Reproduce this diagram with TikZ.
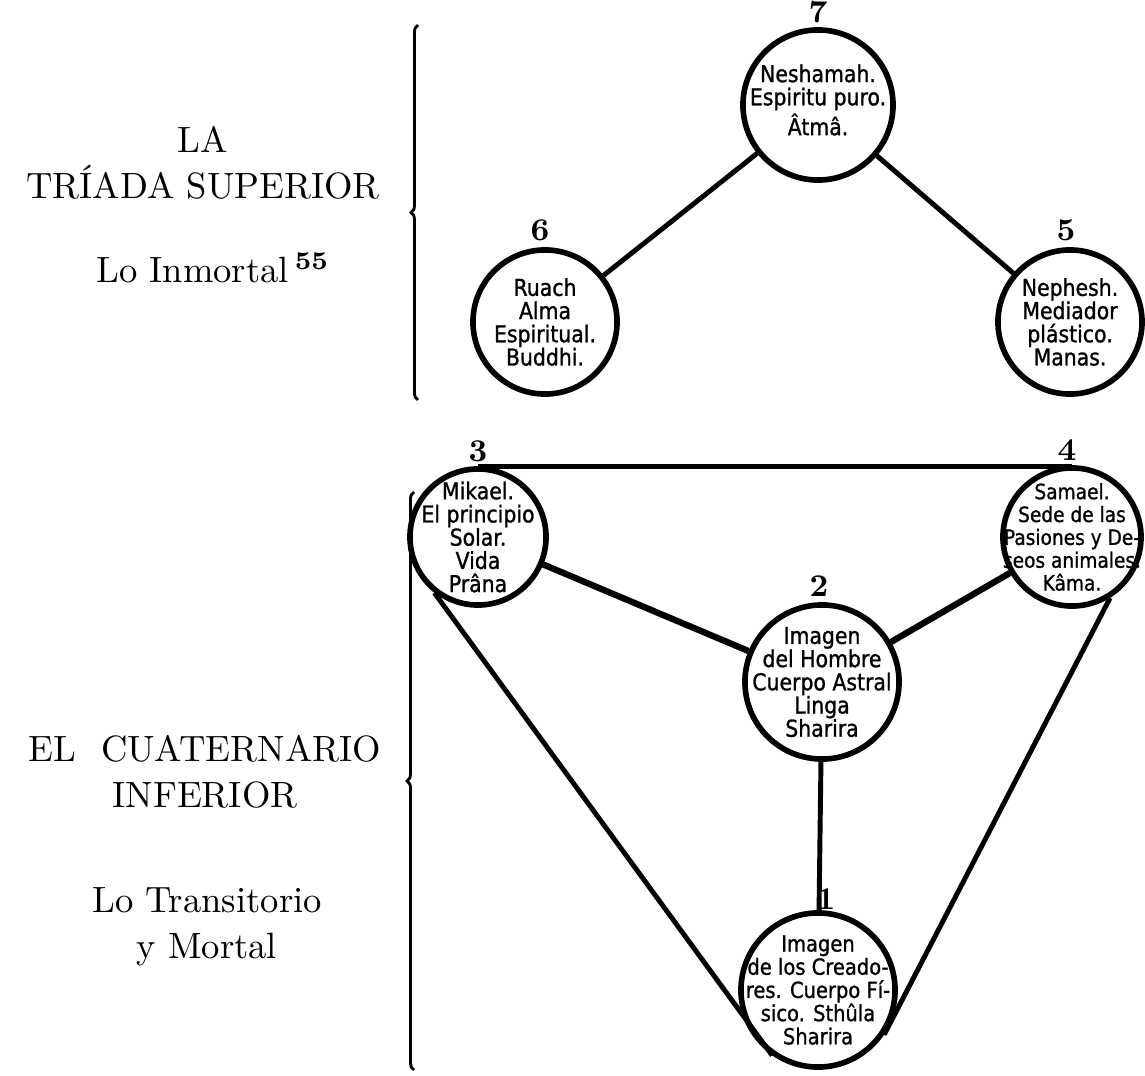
\documentclass[tikz,border=0pt]{standalone}
\usepackage{fontspec}
\newfontfamily\circfont[FakeStretch=0.88,FakeBold=1.1]{DejaVu Sans}
\usetikzlibrary{positioning,decorations.pathreplacing}

\tikzset{
  sefira/.style={circle,draw=black,line width=1.6pt,inner sep=0pt,minimum size=#1},
  inscr/.style={align=center,inner sep=0pt,font=\circfont\fontsize{6.6}{6.6}\selectfont},
  num/.style={font=\bfseries\small,inner sep=0pt},
  bond/.style={line width=1.4pt},
  brc/.style={decorate,decoration={brace,amplitude=0.07cm},line width=0.8pt},
  lbl/.style={align=center,font=\fontsize{10.4}{13}\selectfont}
}

\begin{document}
\begin{tikzpicture}[x=0.01cm,y=-0.01cm]
\useasboundingbox (0,0) rectangle (1145,1076);
% upper triad
\node(neshamah)[sefira=1.5cm,label={[inscr,yshift=0.05cm]center:Neshamah.\\Espiritu puro.\\Âtmâ.}] at (818,105) {};
\node(ruach)[sefira=1.44cm,label={[inscr]center:Ruach\\Alma\\Espiritual.\\Buddhi.}] at (545,322) {};
\node(nephesh)[sefira=1.44cm,label={[inscr]center:Nephesh.\\Mediador\\plástico.\\Manas.}] at (1070,322) {};
\node(n7)[num,above=0.04cm of neshamah]{7};
\node(n6)[num,above=0.06cm of ruach,xshift=-0.05cm]{6};
\node(n5)[num,above=0.06cm of nephesh,xshift=-0.04cm]{5};
\draw[bond](neshamah)--(ruach);
\draw[bond](neshamah)--(nephesh);
% lower quaternary
\node(mikael)[sefira=1.36cm,label={[inscr]center:Mikael.\\El principio\\Solar.\\Vida\\Prâna}] at (478,537) {};
\node(samael)[sefira=1.38cm,label={[inscr,font=\circfont\fontsize{6}{6.5}\selectfont]center:Samael.\\Sede de las\\Pasiones y De-\\seos animales.\\Kâma.}] at (1072,537) {};
\node(hombre)[sefira=1.54cm,label={[inscr]center:Imagen\\del Hombre\\Cuerpo Astral\\Linga\\Sharira}] at (822,682) {};
\node(creadores)[sefira=1.54cm,label={[inscr,font=\circfont\fontsize{6.3}{6.6}\selectfont]center:Imagen\\de los Creado-\\res. Cuerpo Fí-\\sico. Sthûla\\Sharira}] at (818,990) {};
\node(n3)[num,above=0.04cm of mikael]{3};
\node(n4)[num,above=0.04cm of samael,xshift=-0.05cm]{4};
\node(n2)[num,above=0.05cm of hombre,xshift=-0.03cm]{2};
\node(n1)[num,above=0.0cm of creadores,xshift=0.08cm]{1};
\draw[bond](mikael.north)--(mikael.north-|samael.north);
\draw[bond,line width=1.8pt](mikael)--(hombre);
\draw[bond,line width=1.8pt](samael)--(hombre);
\draw[bond](hombre)--(creadores);
\draw[bond](mikael.232)--(creadores.235);
\draw[bond](samael.302)--(creadores.326);
% braces and titles
\coordinate(top1) at (418,25);
\coordinate(bot1) at (418,400);
\coordinate(top2) at (414,492);
\coordinate(bot2) at (414,1070);
\draw[brc](bot1)--(top1);
\draw[brc](bot2)--(top2);
\node(triada)[lbl] at (203,163) {LA\\TRÍADA SUPERIOR};
\node(inmortal)[lbl] at (213,268) {Lo Inmortal\,\textsuperscript{\textbf{55}}};
\node(cuaternario)[lbl] at (205,772) {EL\ \ CUATERNARIO\\INFERIOR};
\node(mortal)[lbl] at (207,927) {Lo Transitorio\\y Mortal};
\end{tikzpicture}
\end{document}
